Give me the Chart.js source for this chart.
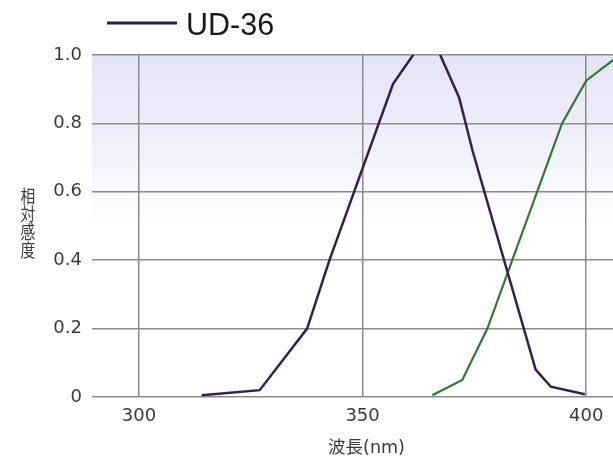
<!DOCTYPE html>
<html>
<head>
<meta charset="utf-8">
<script src="https://cdn.jsdelivr.net/npm/chart.js@4.4.1/dist/chart.umd.min.js"></script>
<style>
  html, body { margin: 0; padding: 0; background: #ffffff; }
  #wrap { width: 613px; height: 458px; position: relative; }
</style>
</head>
<body>
<div id="wrap"><canvas id="c" width="613" height="458"></canvas></div>
<script>
// Spectral sensitivity curves (wavelength in nm, relative sensitivity)
const ud36Wavelengths = [314, 327, 337.6, 342.6, 356.8, 365, 371.6, 374.6, 388.7, 392.1, 399.7];
const ud36Values      = [0.005, 0.02, 0.20, 0.40, 0.915, 1.07, 0.875, 0.72, 0.08, 0.03, 0.008];

const secondWavelengths = [365.6, 372.3, 377.9, 394.6, 400, 406];
const secondValues      = [0.005, 0.05, 0.20, 0.80, 0.925, 0.985];

const xTickValues = [300, 350, 400];
const yTickValues = [0, 0.2, 0.4, 0.6, 0.8, 1.0];

const seriesNames = ['UD-36', ''];
const yTitleText = '相対感度';
const xTitleText = '波長(nm)';

const toPoints = (xs, ys) => xs.map((x, i) => ({ x: x, y: ys[i] }));

const PURPLE = '#35204d';
const GREEN = '#2f7a32';
const GRID = '#8c8c8c';
const TEXT = '#3a3a3a';

// Lavender wash behind the upper part of the plot
const backdrop = {
  id: 'backdrop',
  beforeDraw(chart) {
    const { ctx, chartArea: a } = chart;
    const g = ctx.createLinearGradient(0, a.top, 0, a.top + 170);
    g.addColorStop(0, 'rgba(228,228,247,1)');
    g.addColorStop(0.55, 'rgba(241,241,251,1)');
    g.addColorStop(1, 'rgba(255,255,255,1)');
    ctx.save();
    ctx.fillStyle = g;
    ctx.fillRect(a.left, a.top, a.right - a.left, a.bottom - a.top);
    ctx.restore();
  }
};

// Axis captions (stacked vertical one on the left) and the single-entry key
const captions = {
  id: 'captions',
  afterDraw(chart) {
    const { ctx } = chart;
    ctx.save();
    ctx.fillStyle = TEXT;
    ctx.textAlign = 'center';
    ctx.textBaseline = 'middle';

    // vertical caption, slightly condensed characters
    ctx.font = '18px "Noto Sans CJK JP"';
    Array.from(yTitleText).forEach((ch, i) => {
      ctx.save();
      ctx.translate(28, 196.5 + i * 18);
      ctx.scale(0.82, 1);
      ctx.fillText(ch, 0, 0);
      ctx.restore();
    });

    // horizontal caption under the wavelength ticks
    ctx.font = '17.5px "DejaVu Sans", "Noto Sans CJK JP"';
    ctx.fillText(xTitleText, 366.5, 448);

    // key
    const ds = chart.data.datasets[0];
    ctx.strokeStyle = '#22204f';
    ctx.lineWidth = 3;
    ctx.beginPath();
    ctx.moveTo(107, 23);
    ctx.lineTo(177, 23);
    ctx.stroke();
    ctx.fillStyle = '#1a1a1a';
    ctx.font = '30.5px "Liberation Sans"';
    ctx.textAlign = 'left';
    ctx.textBaseline = 'alphabetic';
    ctx.fillText(ds.label, 186, 35);
    ctx.restore();
  }
};

new Chart(document.getElementById('c'), {
  type: 'line',
  data: {
    datasets: [
      {
        label: seriesNames[0],
        data: toPoints(ud36Wavelengths, ud36Values),
        borderColor: PURPLE,
        borderWidth: 2.5,
        pointRadius: 0,
        tension: 0,
        fill: false
      },
      {
        label: seriesNames[1],
        data: toPoints(secondWavelengths, secondValues),
        borderColor: GREEN,
        borderWidth: 2.2,
        pointRadius: 0,
        tension: 0,
        fill: false
      }
    ]
  },
  options: {
    responsive: false,
    animation: false,
    events: [],
    layout: { padding: { top: 55, left: 0, right: 0, bottom: 0 } },
    plugins: {
      legend: { display: false },
      tooltip: { enabled: false }
    },
    scales: {
      x: {
        type: 'linear',
        min: 289.5,
        max: 406,
        afterBuildTicks(scale) { scale.ticks = xTickValues.map(v => ({ value: v })); },
        afterFit(scale) { scale.height = 61; },
        grid: { color: GRID, lineWidth: 1.5, drawTicks: false },
        border: { display: false },
        ticks: {
          padding: 9,
          color: TEXT,
          font: { family: 'DejaVu Sans', size: 18 },
          maxRotation: 0,
          autoSkip: false
        }
      },
      y: {
        type: 'linear',
        min: 0,
        max: 1.0,
        afterBuildTicks(scale) { scale.ticks = yTickValues.map(v => ({ value: v })); },
        afterFit(scale) { scale.width = 92; },
        grid: { color: GRID, lineWidth: 1.5, drawTicks: false },
        border: { display: false },
        ticks: {
          padding: 10,
          color: TEXT,
          font: { family: 'DejaVu Sans', size: 18 },
          callback: v => (v === 0 ? '0' : v.toFixed(1))
        }
      }
    }
  },
  plugins: [backdrop, captions]
});
</script>
</body>
</html>
